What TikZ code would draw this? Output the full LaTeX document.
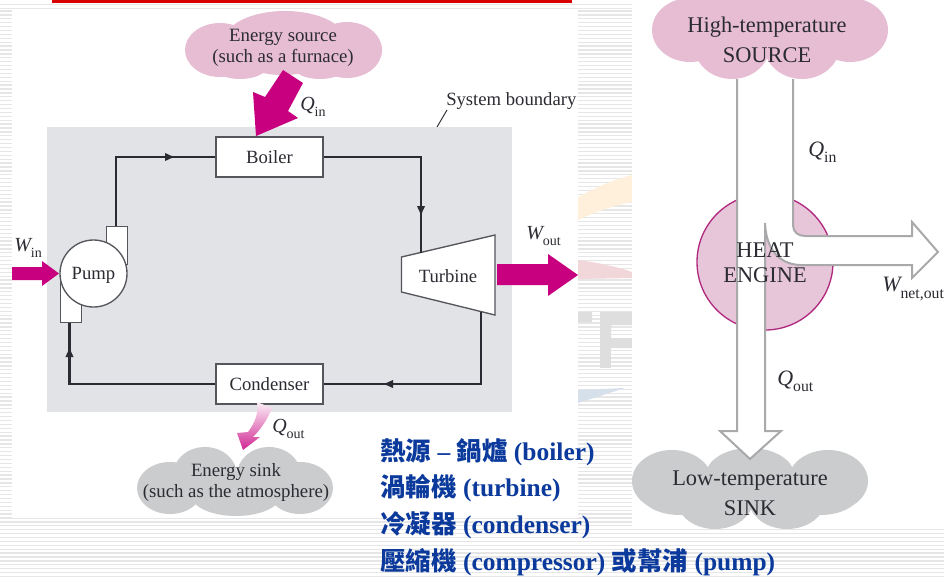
\documentclass[tikz,border=0pt]{standalone}
\usepackage{fontspec}
\setmainfont{Liberation Serif}
\newfontfamily\cjk{Noto Sans CJK TC}
\usetikzlibrary{arrows.meta,positioning}
\definecolor{stripe}{HTML}{E6E6E6}
\definecolor{sysgray}{HTML}{E2E3E6}
\definecolor{ink}{HTML}{2B2B33}
\definecolor{magentaarrow}{HTML}{C8007F}
\definecolor{cloudpink}{HTML}{E7BDD3}
\definecolor{cloudgray}{HTML}{CBCCCE}
\definecolor{enginefill}{HTML}{E8C6DA}
\definecolor{engineline}{HTML}{B02A80}
\definecolor{flowgray}{HTML}{A9A9AB}
\definecolor{cjkblue}{HTML}{0B3A9C}
\definecolor{wmorange}{HTML}{FFF0DC}
\definecolor{wmpink}{HTML}{F1D6DA}
\definecolor{wmgray}{HTML}{DEDEDE}
\definecolor{wmblue}{HTML}{D6E0EA}
\newcommand{\px}{0.75pt}
\newcommand{\lab}[2]{{\itshape #1}\raisebox{-0.28em}{\fontsize{10.5}{12}\selectfont #2}}
\newcommand{\labb}[2]{{\itshape #1}\raisebox{-0.28em}{\fontsize{11.8}{12}\selectfont #2}}
\tikzset{
  x=0.75pt,y=-0.75pt,
  comp/.style={draw=ink!80,line width=1pt,fill=white,text=ink,font=\fontsize{14}{16}\selectfont,inner sep=0pt,text depth=0pt},
  pipe/.style={draw=ink,line width=1.6pt,line cap=butt},
  pipetip/.style={pipe,-{Latex[length=8pt,width=6.5pt]},shorten >=-0.5pt},
  txt/.style={text=ink,font=\fontsize{14.1}{15.8}\selectfont,align=center,inner sep=0pt},
  bigtxt/.style={text=ink,font=\fontsize{16.8}{22.5}\selectfont,align=center,inner sep=0pt},
  engtxt/.style={text=ink,font=\fontsize{16.8}{18.8}\selectfont,align=center,inner sep=0pt},
  qlab/.style={text=ink,font=\fontsize{15}{18}\selectfont,inner sep=0pt,anchor=west},
  qlabb/.style={text=ink,font=\fontsize{16.5}{18}\selectfont,inner sep=0pt,anchor=west},
  cjkline/.style={text=cjkblue,font=\fontsize{19.1}{22}\selectfont\bfseries,anchor=west,inner sep=0pt}
}
\begin{document}
\begin{tikzpicture}
\useasboundingbox (0,0) rectangle (944,578);
\clip (0,0) rectangle (944,578);
% page background
\fill[white] (0,0) rectangle (944,578);
\foreach \yy in {11,14.9,...,578} \draw[stripe,line width=1pt] (0,\yy) -- (944,\yy);
% faint watermark pieces between the panels
\fill[wmorange] (578,197) .. controls (595,188) and (612,180) .. (632,175) -- (632,202) .. controls (612,206) and (595,212) .. (578,220) -- cycle;
\fill[wmpink] (578,260) .. controls (600,263) and (618,267) .. (632,272) -- (632,278) -- (578,279) -- cycle;
\fill[wmgray,even odd rule] (578,312) rectangle (592,322) (600,312) rectangle (632,348) (611,325) rectangle (632,338);
\fill[wmgray] (600,348) rectangle (611,368);
\fill[wmblue] (578,390) -- (625,388) -- (578,403) -- cycle;
% white panels
\fill[white] (12,10) rectangle (578,518);
\fill[white] (632,0) rectangle (944,528);
\fill[white] (0,0) rectangle (632,10);
\draw[stripe,line width=1pt] (0,4.5) -- (632,4.5) (0,8.5) -- (632,8.5);
\fill[red!85!black] (52,0) rectangle (572,3);
% clouds, left
\foreach \cx/\cy/\rx/\ry in {220/50/35/27,347/50/35/28,285/40/60/29,240/60/32/19,320/60/32/19,283/60/40/15}
  \fill[cloudpink] (\cx,\cy) ellipse [x radius=\rx,y radius=\ry];
\foreach \cx/\cy/\rx/\ry in {170/488/33/26,300/488/33/26,205/475/32/28,269/475/32/28,236/495/45/21}
  \fill[cloudgray] (\cx,\cy) ellipse [x radius=\rx,y radius=\ry];
% clouds, right
\foreach \cx/\cy/\rx/\ry in {690/30/38/32,850/30/38/32,732/45/38/34,802/45/38/34,770/8/85/30}
  \fill[cloudpink] (\cx,\cy) ellipse [x radius=\rx,y radius=\ry];
\foreach \cx/\cy/\rx/\ry in {672/481/40/31,828/481/40/31,750/475/44/27,715/500/38/29,787/500/38/29,680/495/38/20,820/495/38/20}
  \fill[cloudgray] (\cx,\cy) ellipse [x radius=\rx,y radius=\ry];
% system boundary
\fill[sysgray] (46.5,127) rectangle (512,412);
\draw[ink,line width=0.7pt] (437,127) -- (447,110);
% pump ducts
\node[comp,minimum width=21*\px,minimum height=38*\px,anchor=north west] (pumpout) at (106,226) {};
\node[comp,minimum width=21*\px,minimum height=40*\px,anchor=south west] (pumpin) at (59.5,323) {};
\node[comp,circle,minimum size=67*\px] (pump) at (93.5,273.5) {Pump};
% components
\node[comp,minimum width=107*\px,minimum height=40*\px] (boiler) at (269.5,157) {Boiler};
\node[comp,minimum width=107*\px,minimum height=40*\px] (condenser) at (269.5,384) {Condenser};
\draw[comp] (401.5,257) -- (495,235) -- (495,315) -- (401.5,292) -- cycle;
\node[text=ink,font=\fontsize{14}{16}\selectfont,inner sep=0pt] (turbine) at (448,276) {Turbine};
\coordinate (turbinein) at (421,252.5);
\coordinate (turbineout) at (481,311.5);
% cycle pipes
\coordinate (c1) at (175,157);
\coordinate (c2) at (421,216);
\coordinate (c3) at (383,384);
\coordinate (c4) at (69.5,347);
\coordinate (c5) at (116,157);
\coordinate (c6) at (421,157);
\coordinate (c7) at (481,384);
\coordinate (c8) at (69.5,384);
\draw[pipe,line join=miter] (pumpout.north -| c5) -- (c5) -- (c1);
\draw[pipetip] (c5) -- (c1);
\draw[pipe] (c1) -- (boiler.west);
\draw[pipe,line join=miter] (boiler.east) -- (c6) -- (c2);
\draw[pipetip] (c6) -- (c2);
\draw[pipe] (c2) -- (turbinein);
\draw[pipe,line join=miter] (turbineout) -- (c7) -- (c3);
\draw[pipetip] (c7) -- (c3);
\draw[pipe] (c3) -- (condenser.east);
\draw[pipe,line join=miter] (condenser.west) -- (c8) -- (c4);
\draw[pipetip] (c8) -- (c4);
\draw[pipe] (c4) -- (pumpin.south -| c8);
% thick magenta arrows
\fill[magentaarrow] (283,70) -- (303,83) -- (288,111) -- (298,118) -- (256,136) -- (253,92) -- (265,97) -- cycle;
\fill[magentaarrow] (497,264) -- (548,264) -- (548,254) -- (578,275) -- (548,296) -- (548,285) -- (497,285) -- cycle;
\fill[magentaarrow] (12,267) -- (42,267) -- (42,261) -- (59,273.5) -- (42,286) -- (42,280) -- (12,280) -- cycle;
\shade[top color=magentaarrow!6!white,bottom color=magentaarrow!85!white,shading angle=0] (257,402) .. controls (259,414) and (254,424) .. (248,432) -- (237,433) -- (243,450) -- (260,437) -- (253,437) .. controls (262,428) and (268,418) .. (272,408) -- cycle;
% left texts
\node[txt] (srclabel) at (283,47.5) {Energy source\\(such as a furnace)};
\node[txt] (sinklabel) at (236,482.5) {Energy sink\\(such as the atmosphere)};
\node[text=ink,font=\fontsize{14}{16}\selectfont,inner sep=0pt,anchor=west] (sysb) at (446,101) {System boundary};
\node[qlab] (qin) at (300,107) {\lab{Q}{in}};
\node[qlab] (qout) at (272,429) {\lab{Q}{out}};
\node[qlab] (win) at (14,248) {\lab{W}{in}};
\node[qlab] (wout) at (526,236) {\lab{W}{out}};
% heat engine
\node[circle,draw=engineline,fill=enginefill,line width=1pt,minimum size=136*\px,inner sep=0pt] (engine) at (765,262) {};
% flow outline
\coordinate (fa) at (737,79);
\coordinate (fb) at (793,79);
\fill[white] (fa) -- (fb) -- (793,225) .. controls (793,232) and (798,236) .. (805,236) -- (912,236) -- (912,222) -- (938,252) -- (912,278) -- (912,265) -- (800,265) .. controls (778,264) and (766,248) .. (765,223) -- (765,431) -- (781,431) -- (750,459) -- (720,431) -- (737,431) -- cycle;
\draw[flowgray,line width=1.5pt] (fb) -- (793,225) .. controls (793,232) and (798,236) .. (805,236) -- (912,236) -- (912,222) -- (938,252) -- (912,278) -- (912,265) -- (800,265) .. controls (778,264) and (766,248) .. (765,223) -- (765,431) -- (781,431) -- (750,459) -- (720,431) -- (737,431) -- (fa);
% right texts
\node[bigtxt] (hot) at (767,40) {High-temperature\\SOURCE};
\node[bigtxt] (cold) at (750,493) {Low-temperature\\SINK};
\node[engtxt] (he) at (765,263) {HEAT\\ENGINE};
\node[qlabb] (qin2) at (808,152) {\labb{Q}{in}};
\node[qlabb] (qout2) at (777,381) {\labb{Q}{out}};
\node[qlabb] (wnet) at (882,289) {\labb{W}{net,out}};
% Chinese lines
\node[cjkline] (l1) at (380,452) {{\cjk 熱源} – {\cjk 鍋爐} (boiler)};
\node[cjkline] (l2) at (380,488.5) {{\cjk 渦輪機} (turbine)};
\node[cjkline] (l3) at (380,525) {{\cjk 冷凝器} (condenser)};
\node[cjkline] (l4) at (380,562) {{\cjk 壓縮機} (compressor) {\cjk 或幫浦} (pump)};
\end{tikzpicture}
\end{document}
